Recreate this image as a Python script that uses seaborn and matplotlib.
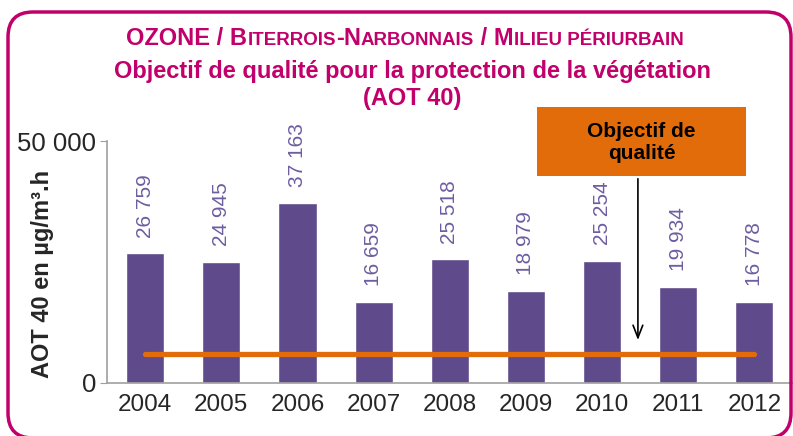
import matplotlib
matplotlib.use("Agg")
import matplotlib.pyplot as plt
import seaborn as sns
import pandas as pd
from matplotlib.patches import FancyBboxPatch, Rectangle

# data
years = ["2004", "2005", "2006", "2007", "2008", "2009", "2010", "2011", "2012"]
aot40 = [26759, 24945, 37163, 16659, 25518, 18979, 25254, 19934, 16778]
objectif = 6000

df = pd.DataFrame({"annee": years, "aot": aot40})

sns.set_style("white")
plt.rcParams["font.family"] = ["Liberation Sans", "DejaVu Sans"]

magenta = "#C2006B"
purple = "#5F4A8B"
label_col = "#6E5DA0"
orange = "#E36C0A"

fig = plt.figure(figsize=(7.93, 4.36), dpi=100)
ax = fig.add_axes([0.135, 0.1216, 0.874, 0.555])

sns.barplot(data=df, x="annee", y="aot", color=purple, width=0.5, saturation=1, ax=ax)

# value labels
for i, v in enumerate(aot40):
    txt = f"{v:,}".replace(",", " ")
    ax.text(i, v + 3300, txt, rotation=90, ha="center", va="bottom",
            fontsize=15, color=label_col)

# objective line
ax.plot([0, len(years) - 1], [objectif, objectif], color=orange, lw=3.8,
        solid_capstyle="round", zorder=5)

# annotation box
ax.add_patch(Rectangle((5.15, 42770), 2.74, 14300, facecolor=orange,
                       edgecolor="none", clip_on=False, zorder=6))
ax.text(6.52, 49700, "Objectif de\nqualité", ha="center", va="center",
        fontsize=15, fontweight="bold", color="black", zorder=7, linespacing=1.2)
ax.annotate("", xy=(6.47, 8300), xytext=(6.47, 42770),
            arrowprops=dict(arrowstyle="->,head_length=0.9,head_width=0.35",
                            color="black", lw=1.2), zorder=7, annotation_clip=False)

ax.set_ylim(0, 50000)
ax.set_xlim(-0.5, 8.6)
ax.set_yticks([0, 50000])
ax.set_yticklabels(["0", "50 000"])
ax.set_xlabel("")
ax.set_ylabel("AOT 40 en µg/m³.h", fontsize=17, fontweight="bold")
ax.yaxis.set_label_coords(-0.077, 0.45)
ax.tick_params(axis="y", labelsize=18.5, length=5, color="#A0A0A0", left=True, pad=3)
ax.tick_params(axis="x", labelsize=17.5, length=0, pad=8)
for s in ["top", "right"]:
    ax.spines[s].set_visible(False)
for s in ["left", "bottom"]:
    ax.spines[s].set_color("#A0A0A0")
    ax.spines[s].set_linewidth(1.2)

# title with small caps pieces
fig.canvas.draw()
r = fig.canvas.get_renderer()
pieces = [("OZONE / B", 17), ("ITERROIS", 13.5), ("-N", 17), ("ARBONNAIS", 13.5),
          (" / M", 17), ("ILIEU PÉRIURBAIN", 13.5)]
texts = []
for s, fs in pieces:
    t = fig.text(0, 0, s, fontsize=fs, fontweight="bold", color=magenta,
                 va="baseline", ha="left", transform=None)
    texts.append(t)
widths = [t.get_window_extent(r).width for t in texts]
x = 405 - sum(widths) / 2
for t, w in zip(texts, widths):
    t.set_position((x, 436 - 45))
    x += w

fig.text(0.52, 0.806, "Objectif de qualité pour la protection de la végétation\n(AOT 40)",
         ha="center", va="center", fontsize=17, fontweight="bold", color=magenta,
         linespacing=1.22)

# rounded frame
frame = FancyBboxPatch((8, -2), 783, 426, boxstyle="round,pad=0,rounding_size=25",
                       facecolor="none", edgecolor=magenta, lw=2.5, transform=None)
fig.add_artist(frame)

fig.savefig("out.png", dpi=100)
